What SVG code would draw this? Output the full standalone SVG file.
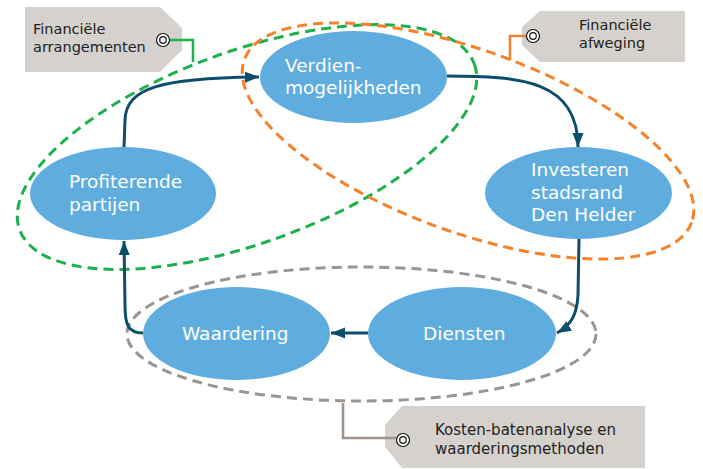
<svg xmlns="http://www.w3.org/2000/svg" width="703" height="469" viewBox="0 0 703 469">
<defs>
<style>
.node{fill:#5FADDE}
.nt{fill:#ffffff;font-family:"DejaVu Sans",Verdana,sans-serif;font-size:18.5px}
.ct{fill:#222222;font-family:"DejaVu Sans",Verdana,sans-serif;font-size:14.5px}
.tag{fill:#D5D1CD}
.dash{fill:none;stroke-width:3;stroke-dasharray:10 6}
.conn{fill:none;stroke:#0B4E6B;stroke-width:3}
.icon{fill:#ffffff;stroke:#111111;stroke-width:1.2}
</style>
<marker id="ah" markerUnits="userSpaceOnUse" markerWidth="15" markerHeight="12" refX="14" refY="6" orient="auto">
<path d="M0,0.5 L14,6 L0,11.5 z" fill="#0B4E6B"/>
</marker>
</defs>
<rect width="703" height="469" fill="#ffffff"/>

<g id="groups">
<ellipse class="dash" cx="247" cy="147" rx="242" ry="96" transform="rotate(-20 247 147)" stroke="#1DB04B"/>
<ellipse class="dash" cx="468" cy="141" rx="238" ry="91" transform="rotate(20 468 141)" stroke="#F5822A"/>
<ellipse class="dash" cx="361.5" cy="334" rx="234.5" ry="67" stroke="#9D948E"/>
</g>

<g id="callout-financiele-arrangementen">
<polygon class="tag" points="25,7 160,7 182,28 182,50 160,72 25,72"/>
<polyline points="170,40 193,40 193,62" fill="none" stroke="#1DB04B" stroke-width="2.5"/>
<circle class="icon" cx="163" cy="40" r="6.5"/>
<circle class="icon" cx="163" cy="40" r="3.3"/>
<text class="ct" x="33" y="33.5">Financiële</text>
<text class="ct" x="33" y="52">arrangementen</text>
</g>

<g id="callout-financiele-afweging">
<polygon class="tag" points="540,11 685,11 685,62 540,62 522,45 522,27"/>
<polyline points="527,36 510,36 510,60" fill="none" stroke="#F5822A" stroke-width="2.5"/>
<circle class="icon" cx="533" cy="36" r="6.5"/>
<circle class="icon" cx="533" cy="36" r="3.3"/>
<text class="ct" x="579" y="30">Financiële</text>
<text class="ct" x="579" y="47.5">afweging</text>
</g>

<g id="callout-kosten-baten">
<polygon class="tag" points="402,406 645,406 645,468 402,468 385,447 385,425"/>
<polyline points="343,403 343,438 396,438" fill="none" stroke="#9D948E" stroke-width="2.5"/>
<circle class="icon" cx="403" cy="440" r="6.5"/>
<circle class="icon" cx="403" cy="440" r="3.3"/>
<text class="ct" x="435" y="435" style="font-size:15px">Kosten-batenanalyse en</text>
<text class="ct" x="435" y="453.5" style="font-size:15px">waarderingsmethoden</text>
</g>

<g id="connectors">
<path class="conn" d="M124,147 L125,120 C126,88 160,78 259,77" marker-end="url(#ah)"/>
<path class="conn" d="M447,76 C520,76 578,80 578,147" marker-end="url(#ah)"/>
<path class="conn" d="M579,239 L578,295 C577,315 571,325 557,333" marker-end="url(#ah)"/>
<path class="conn" d="M368,333 L331,333" marker-end="url(#ah)"/>
<path class="conn" d="M143,333 C128,333 125,325 125,305 L124,241" marker-end="url(#ah)"/>
</g>

<g id="node-verdienmogelijkheden">
<ellipse class="node" cx="353.5" cy="77" rx="93.5" ry="46"/>
<text class="nt" x="285" y="72">Verdien-</text>
<text class="nt" x="285" y="93.5">mogelijkheden</text>
</g>
<g id="node-profiterende-partijen">
<ellipse class="node" cx="123" cy="193.5" rx="93" ry="46.5"/>
<text class="nt" x="69" y="188">Profiterende</text>
<text class="nt" x="69" y="210.5">partijen</text>
</g>
<g id="node-investeren">
<ellipse class="node" cx="578.5" cy="193" rx="93.5" ry="46"/>
<text class="nt" x="531" y="176">Investeren</text>
<text class="nt" x="531" y="198.5">stadsrand</text>
<text class="nt" x="531" y="221">Den Helder</text>
</g>
<g id="node-waardering">
<ellipse class="node" cx="236.5" cy="333.5" rx="93.5" ry="46.5"/>
<text class="nt" x="182" y="340">Waardering</text>
</g>
<g id="node-diensten">
<ellipse class="node" cx="462" cy="333.5" rx="94" ry="46.5"/>
<text class="nt" x="423" y="340">Diensten</text>
</g>
</svg>
